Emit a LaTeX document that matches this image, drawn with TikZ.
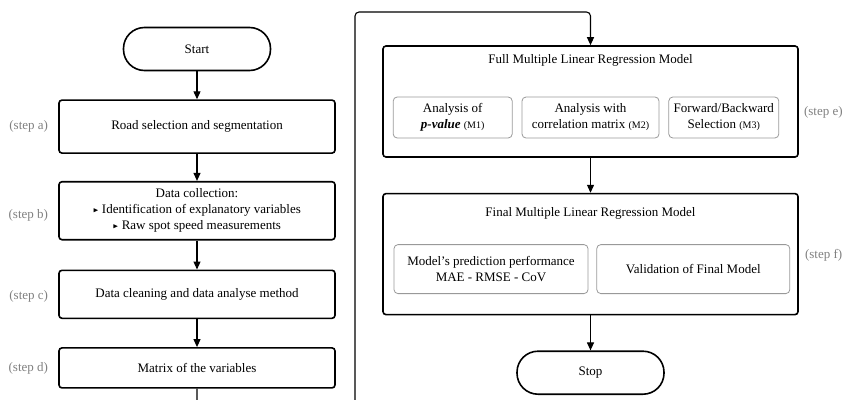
\documentclass[tikz,border=0pt]{standalone}
\usepackage{amssymb}
\usepackage{fontspec}
\setmainfont{Liberation Serif}
\usepackage{tikz}
\usetikzlibrary{positioning,arrows.meta}

\begin{document}
\begin{tikzpicture}[x=1pt,y=1pt,font=\fontsize{13}{16}\selectfont]
  \tikzstyle{terminal} = [draw, line width=1.6pt, rounded corners=21pt, minimum width=147pt, minimum height=43pt]
  \tikzstyle{stepbox} = [draw, line width=1.6pt, rounded corners=3pt, minimum width=276pt, align=center]
  \tikzstyle{bigbox} = [draw, line width=1.6pt, rounded corners=3pt, minimum width=415pt]
  \tikzstyle{subbox} = [draw=gray!80, line width=0.8pt, rounded corners=4pt, align=center, inner sep=2pt]
  \tikzstyle{steplabel} = [text=gray, inner sep=0pt]
  \tikzstyle{arrow} = [line width=1.1pt, -{Triangle[length=8pt,width=7pt]}]
  \newcommand{\tri}{\raisebox{1pt}{\scalebox{0.55}{$\blacktriangleright$}}}
  \newcommand{\mtag}[1]{{\fontsize{10}{12}\selectfont (#1)}}

  \useasboundingbox (0,0) rectangle (842,-399);

  % Define nodes (left column)
  \node[terminal] (start) at (197,-49) {Start};
  \node[stepbox, below=28pt of start, minimum height=53pt] (roadsel) {Road selection and segmentation};
  \node[stepbox, below=27pt of roadsel, minimum height=58pt] (datacoll)
    {Data collection:\\ \tri\ Identification of explanatory variables\\ \tri\ Raw spot speed measurements};
  \node[stepbox, below=29pt of datacoll, minimum height=48pt] (cleaning) {Data cleaning and data analyse method};
  \node[stepbox, below=28pt of cleaning, minimum height=40pt] (matrix) {Matrix of the variables};

  \node[steplabel, left=10pt of roadsel] {(step a)};
  \node[steplabel, left=10pt of datacoll, yshift=-5pt] {(step b)};
  \node[steplabel, left=10pt of cleaning, yshift=-2pt] {(step c)};
  \node[steplabel, left=10pt of matrix] {(step d)};

  % Define nodes (right column)
  \node[bigbox, minimum height=111pt] (fullmlr) at (590.5,-101.5) {};
  \node at ([yshift=-15pt]fullmlr.north) {Full Multiple Linear Regression Model};
  \node[subbox, minimum width=137pt, minimum height=41pt] (corr) at ([yshift=-16pt]fullmlr.center)
    {Analysis with\\ correlation matrix \mtag{M2}};
  \node[subbox, minimum width=119pt, minimum height=41pt, left=9pt of corr] (pval)
    {Analysis of\\ \textbf{\textit{p-value}} \mtag{M1}};
  \node[subbox, minimum width=110pt, minimum height=41pt, right=9pt of corr] (fwdbwd)
    {Forward/Backward\\ Selection \mtag{M3}};

  \node[bigbox, below=35pt of fullmlr, minimum height=121pt] (finalmlr) {};
  \node at ([yshift=-21pt]finalmlr.north) {Final Multiple Linear Regression Model};
  \node[subbox, minimum width=194pt, minimum height=49pt] (perf) at ([xshift=-99.5pt,yshift=-15pt]finalmlr.center)
    {Model's prediction performance\\ MAE - RMSE - CoV};
  \node[subbox, minimum width=193pt, minimum height=49pt, right=8pt of perf] (valid) {Validation of Final Model};

  \node[terminal, below=35pt of finalmlr] (stop) {Stop};

  \node[steplabel, right=5pt of fullmlr, yshift=-11pt] {(step e)};
  \node[steplabel, right=6pt of finalmlr, yshift=-1pt] {(step f)};

  % Edges
  \draw[arrow] (start) -- (roadsel);
  \draw[arrow] (roadsel) -- (datacoll);
  \draw[arrow] (datacoll) -- (cleaning);
  \draw[arrow] (cleaning) -- (matrix);
  \coordinate (loopdown) at (355,-412);
  \coordinate (loopup) at (355,-12);
  \draw[arrow, rounded corners=4pt, overlay] (matrix.south) |- (loopdown) -- (loopup) -| (fullmlr.north);
  \draw[arrow] (fullmlr) -- (finalmlr);
  \draw[arrow] (finalmlr) -- (stop);
\end{tikzpicture}
\end{document}
